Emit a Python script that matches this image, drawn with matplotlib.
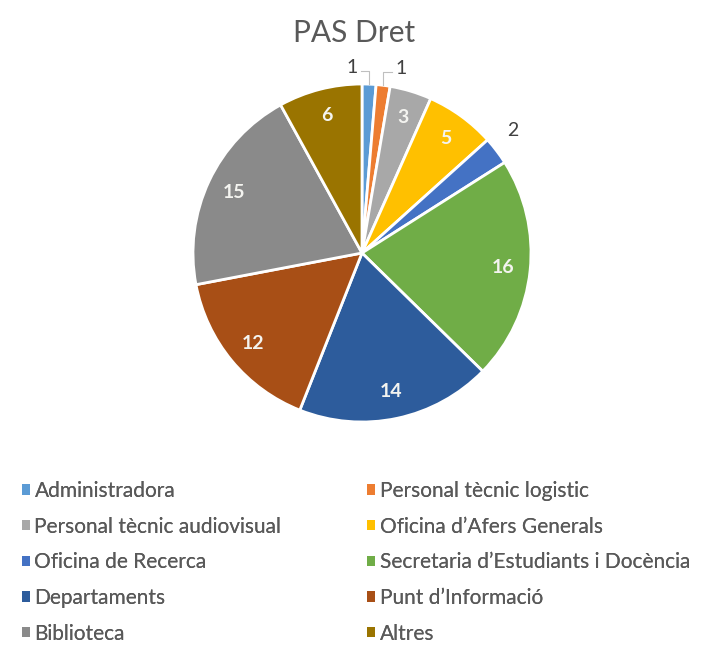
import matplotlib.pyplot as plt
from matplotlib.patches import Patch
import numpy as np

labels = ['Administradora', 'Personal tècnic logistic', 'Personal tècnic audiovisual',
          "Oficina d’Afers Generals", 'Oficina de Recerca', "Secretaria d’Estudiants i Docència",
          'Departaments', "Punt d’Informació", 'Biblioteca', 'Altres']
values = [1, 1, 3, 5, 2, 16, 14, 12, 15, 6]
colors = ['#5B9BD5', '#ED7D31', '#A8A8A8', '#FFC000', '#4472C4',
          '#70AD47', '#2D5C9C', '#A84F16', '#8A8A8A', '#9A7400']

plt.rcParams['font.family'] = ['Lato', 'DejaVu Sans']

fig = plt.figure(figsize=(7.03, 6.66), dpi=100)
# pie centre about (362, 253) px, radius about 169 px
ax = fig.add_axes([193 / 703, 1 - 422 / 666, 338 / 703, 338 / 666])

wedges, _ = ax.pie(values, colors=colors, startangle=90, counterclock=False,
                   wedgeprops=dict(edgecolor='white', linewidth=2))
ax.set_aspect('equal')
ax.set_xlim(-1, 1)
ax.set_ylim(-1, 1)

for w, v in zip(wedges, values):
    mid = np.deg2rad((w.theta1 + w.theta2) / 2)
    if v >= 3:
        r = 0.84
        ax.text(r * np.cos(mid), r * np.sin(mid), str(v), ha='center', va='center',
                color='#f4f4f0', fontsize=14, fontweight='bold')

# small slices labelled outside
m0 = np.deg2rad((wedges[0].theta1 + wedges[0].theta2) / 2)
m1 = np.deg2rad((wedges[1].theta1 + wedges[1].theta2) / 2)
m4 = np.deg2rad((wedges[4].theta1 + wedges[4].theta2) / 2)
x0, y0 = np.cos(m0), np.sin(m0)
ax.plot([x0, x0, x0 - 0.05], [y0, y0 + 0.08, y0 + 0.08], color='#bfbfbf', lw=0.8, clip_on=False)
ax.text(x0 - 0.07, y0 + 0.1, '1', ha='right', va='center', fontsize=14, color='#404040')
x1, y1 = np.cos(m1), np.sin(m1)
ax.plot([x1, x1, x1 + 0.05], [y1, y1 + 0.08, y1 + 0.08], color='#bfbfbf', lw=0.8, clip_on=False)
ax.text(x1 + 0.07, y1 + 0.1, '1', ha='left', va='center', fontsize=14, color='#404040')
ax.text(1.12 * np.cos(m4), 1.12 * np.sin(m4) + 0.05, '2', ha='center', va='center',
        fontsize=14, color='#404040')

fig.text(0.503, 0.95, 'PAS Dret', ha='center', va='center', fontsize=21.5, color='#595959')

handles = [Patch(facecolor=c, edgecolor='none') for c in colors]
left = [0, 2, 4, 6, 8]
right = [1, 3, 5, 7, 9]
for idx, xa in ((left, 22 / 703), (right, 367 / 703)):
    leg = fig.legend([handles[i] for i in idx], [labels[i] for i in idx],
                     loc='upper left', bbox_to_anchor=(xa, 1 - 481 / 666), frameon=False,
                     fontsize=15, labelcolor='#595959', handlelength=0.4, handleheight=0.4,
                     handletextpad=0.2, labelspacing=0.75, borderpad=0, borderaxespad=0)
    fig.add_artist(leg)

fig.savefig('out.png', dpi=100)
